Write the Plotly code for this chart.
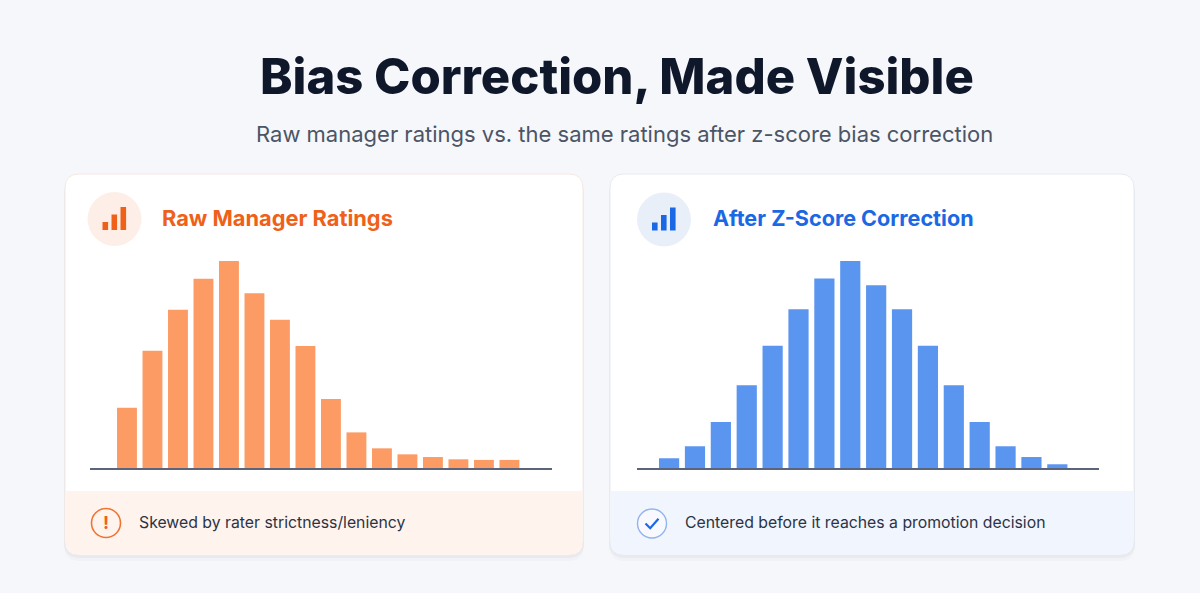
import plotly.graph_objects as go

# ---------------- data ----------------
rating_bins = ["1.00", "1.25", "1.50", "1.75", "2.00", "2.25", "2.50", "2.75",
               "3.00", "3.25", "3.50", "3.75", "4.00", "4.25", "4.50", "4.75"]
raw_ratings = [29.1, 56.7, 76.5, 91.4, 100.0, 84.4, 71.6, 58.9,
               33.3, 17.2, 9.5, 6.6, 5.3, 4.2, 3.9, 3.9]
corrected_ratings = [4.7, 10.5, 22.2, 40.0, 59.1, 76.7, 91.6, 100.0,
                     88.3, 76.7, 59.1, 40.0, 22.2, 10.5, 5.3, 1.8]

title_text = "Bias Correction, Made Visible"
subtitle_text = "Raw manager ratings vs. the same ratings after z-score bias correction"
left_title = "Raw Manager Ratings"
right_title = "After Z-Score Correction"
left_note = "Skewed by rater strictness/leniency"
right_note = "Centered before it reaches a promotion decision"

# ---------------- geometry helpers ----------------
W, H = 1200, 593
FONT = "Inter"
ORANGE = "#ef6119"
BLUE = "#1b68e4"


def X(px):
    return px / W


def Y(py):
    return 1 - py / H


def rrect_path(x0, y0, x1, y1, r, top=True, bottom=True):
    rt = r if top else 0
    rb = r if bottom else 0
    p = f"M {X(x0 + rt)} {Y(y0)} L {X(x1 - rt)} {Y(y0)} "
    p += f"Q {X(x1)} {Y(y0)} {X(x1)} {Y(y0 + rt)} " if rt else ""
    p += f"L {X(x1)} {Y(y1 - rb)} "
    p += f"Q {X(x1)} {Y(y1)} {X(x1 - rb)} {Y(y1)} " if rb else ""
    p += f"L {X(x0 + rb)} {Y(y1)} "
    p += f"Q {X(x0)} {Y(y1)} {X(x0)} {Y(y1 - rb)} " if rb else ""
    p += f"L {X(x0)} {Y(y0 + rt)} "
    p += f"Q {X(x0)} {Y(y0)} {X(x0 + rt)} {Y(y0)} " if rt else ""
    return p + "Z"


shapes = []
annotations = []


def card(x0, x1, footer_fill, border):
    y0, y1, fy = 174, 555, 491
    for off, a in [(6, 0.025), (3, 0.035)]:
        shapes.append(dict(type="path", xref="paper", yref="paper",
                           path=rrect_path(x0 - 1, y0 + off, x1 + 1, y1 + off, 16),
                           fillcolor=f"rgba(30,41,59,{a})", line=dict(width=0),
                           layer="below"))
    shapes.append(dict(type="path", xref="paper", yref="paper",
                       path=rrect_path(x0, y0, x1, y1, 14),
                       fillcolor="#ffffff", line=dict(color=border, width=1),
                       layer="below"))
    shapes.append(dict(type="path", xref="paper", yref="paper",
                       path=rrect_path(x0 + 0.5, fy, x1 - 0.5, y1 - 0.5, 14, top=False),
                       fillcolor=footer_fill, line=dict(width=0), layer="below"))


def header_icon(cx, cy, fill, color):
    shapes.append(dict(type="circle", xref="paper", yref="paper",
                       x0=X(cx - 27), x1=X(cx + 27), y0=Y(cy + 27), y1=Y(cy - 27),
                       fillcolor=fill, line=dict(width=0), layer="below"))
    base = cy + 11
    for dx, h in [(-12, 8), (-3, 15.5), (6, 23)]:
        shapes.append(dict(type="rect", xref="paper", yref="paper",
                           x0=X(cx + dx), x1=X(cx + dx + 5.6), y0=Y(base), y1=Y(base - h),
                           fillcolor=color, line=dict(width=0), layer="below"))


# left card
card(65, 583, "#fff4ed", "#f3e9e3")
header_icon(114.5, 219, "#fdefe7", ORANGE)
# right card
card(610, 1134, "#f1f5fd", "#e6eaf2")
header_icon(664, 219.5, "#e9eff9", BLUE)

# footer icons
shapes.append(dict(type="circle", xref="paper", yref="paper",
                   x0=X(106 - 14.5), x1=X(106 + 14.5), y0=Y(523 + 14.5), y1=Y(523 - 14.5),
                   fillcolor="rgba(0,0,0,0)", line=dict(color="#ef7434", width=1.6)))
shapes.append(dict(type="circle", xref="paper", yref="paper",
                   x0=X(652 - 14.5), x1=X(652 + 14.5), y0=Y(523.5 + 14.5), y1=Y(523.5 - 14.5),
                   fillcolor="#f7f9ff", line=dict(color="#93b4ec", width=1.4)))
shapes.append(dict(type="path", xref="paper", yref="paper",
                   path=f"M {X(645.5)} {Y(523.5)} L {X(650.2)} {Y(528.2)} L {X(658.5)} {Y(518.8)}",
                   line=dict(color=BLUE, width=2.2)))
annotations.append(dict(x=X(106), y=Y(522.5), xref="paper", yref="paper", text="!",
                        showarrow=False, xanchor="center", yanchor="middle",
                        font=dict(family=FONT, size=18, color=ORANGE, weight="bold")))

# texts
annotations += [
    dict(x=X(617), y=Y(77), text=title_text, xanchor="center", yanchor="middle",
         font=dict(family=FONT, size=49, color="#0f172a", weight=800)),
    dict(x=X(624), y=Y(134), text=subtitle_text, xanchor="center", yanchor="middle",
         font=dict(family=FONT, size=22, color="#4b5565")),
    dict(x=X(160), y=Y(218), text=left_title, xanchor="left", yanchor="middle",
         font=dict(family=FONT, size=21.8, color=ORANGE, weight="bold")),
    dict(x=X(711), y=Y(218), text=right_title, xanchor="left", yanchor="middle",
         font=dict(family=FONT, size=21.6, color=BLUE, weight="bold")),
    dict(x=X(137), y=Y(522), text=left_note, xanchor="left", yanchor="middle",
         font=dict(family=FONT, size=15.8, color="#2b3345")),
    dict(x=X(683), y=Y(522), text=right_note, xanchor="left", yanchor="middle",
         font=dict(family=FONT, size=15.8, color="#2b3345")),
]
for a in annotations:
    a.setdefault("xref", "paper")
    a.setdefault("yref", "paper")
    a.setdefault("showarrow", False)

# ---------------- figure ----------------
fig = go.Figure()
fig.add_trace(go.Bar(x=list(range(len(rating_bins))), y=raw_ratings,
                     customdata=rating_bins, marker=dict(color="#fc9b63", line=dict(width=0)),
                     xaxis="x", yaxis="y", hovertemplate="%{customdata}: %{y}<extra></extra>"))
fig.add_trace(go.Bar(x=list(range(len(rating_bins))), y=corrected_ratings,
                     customdata=rating_bins, marker=dict(color="#5a95f0", line=dict(width=0)),
                     xaxis="x2", yaxis="y2", hovertemplate="%{customdata}: %{y}<extra></extra>"))

ytop = 100 * (468 - 240) / 207
axis_common = dict(showgrid=False, zeroline=False, showticklabels=False, ticks="")
fig.update_layout(
    width=W, height=H, autosize=False,
    margin=dict(l=0, r=0, t=0, b=0),
    paper_bgcolor="#f6f7fb", plot_bgcolor="rgba(0,0,0,0)",
    showlegend=False, bargap=0.22,
    xaxis=dict(domain=[X(90), X(552)], range=[-1.45, 16.67], showline=True,
               linecolor="#5b6579", linewidth=1.6, anchor="y", **axis_common),
    yaxis=dict(domain=[Y(468), Y(240)], range=[0, ytop], anchor="x", **axis_common),
    xaxis2=dict(domain=[X(637), X(1099)], range=[-1.24, 16.61], showline=True,
                linecolor="#5b6579", linewidth=1.6, anchor="y2", **axis_common),
    yaxis2=dict(domain=[Y(468), Y(240)], range=[0, ytop], anchor="x2", **axis_common),
    shapes=shapes, annotations=annotations,
)

fig.write_html("out.html", config={"displayModeBar": False},
               post_script="document.body.style.margin='0';document.body.style.overflow='hidden';")
